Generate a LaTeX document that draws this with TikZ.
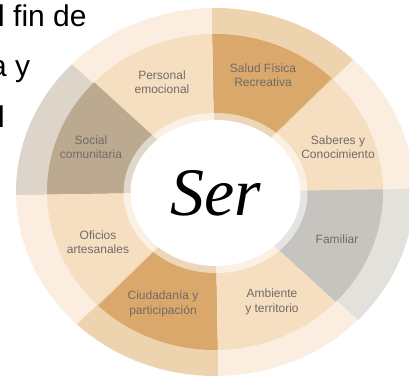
\documentclass[tikz,border=0pt]{standalone}
\usepackage{fontspec}
\setsansfont{Liberation Sans}
\newfontfamily\serfont{Liberation Serif}

% Colours of the wheel
\definecolor{peach}{HTML}{F6DFC1}
\definecolor{cream}{HTML}{FBEEE1}
\definecolor{tan}{HTML}{D9A86A}
\definecolor{tanlight}{HTML}{EDD4AF}
\definecolor{stone}{HTML}{BBAA8F}
\definecolor{stonelight}{HTML}{DDD5C9}
\definecolor{ash}{HTML}{C6C4BF}
\definecolor{ashlight}{HTML}{E3E1DC}
\definecolor{labelgray}{HTML}{716B66}

\begin{document}
\begin{tikzpicture}[
x=1pt, y=1pt,
% Define text styles
segment/.style = {font=\sffamily\fontsize{12}{14.5}\selectfont, text=labelgray, align=center, inner sep=0pt},
bodytext/.style = {font=\sffamily\fontsize{30}{30}\selectfont, anchor=base west, inner sep=0pt, text=black},
centre/.style = {font=\serfont\itshape\fontsize{68}{68}\selectfont, anchor=base, inner sep=0pt}
]
\useasboundingbox (0,0) rectangle (409,377);
\clip (0,0) rectangle (409,377);

\coordinate (c) at (215,185);

% Sectors: start angle / inner colour / outer colour
\foreach \s/\ci/\co in {1/peach/cream, 46/tan/tanlight, 91/peach/cream, 136/stone/stonelight,
  181/peach/cream, 226/tan/tanlight, 271/peach/cream, 316/ash/ashlight}{
  \fill[\co] (c) -- ++(\s:199pt and 184pt) arc[start angle=\s, end angle=\s+45, x radius=199pt, y radius=184pt] -- cycle;
  \fill[\ci] (c) -- ++(\s:168pt and 158pt) arc[start angle=\s, end angle=\s+45, x radius=168pt, y radius=158pt] -- cycle;
}

% Centre
\fill[white, opacity=0.55] (215.5,184) ellipse [x radius=92pt, y radius=80pt];
\fill[white] (215.5,184) ellipse [x radius=85pt, y radius=73pt];
\node (ser) [centre] at (216,161) {Ser};

% Segment labels
\node (saberes) [segment] at (338,230) {Saberes y\\Conocimiento};
\node (salud) [segment] at (263,302) {Salud Física\\Recreativa};
\node (personal) [segment] at (162,295) {Personal\\emocional};
\node (social) [segment] at (91,230) {Social\\comunitaria};
\node (oficios) [segment] at (98,135) {Oficios\\artesanales};
\node (ciudadania) [segment] at (163,73) {Ciudadanía y\\participación};
\node (ambiente) [segment] at (272,75) {Ambiente\\y territorio};
\node (familiar) [segment] at (337,138) {Familiar};

% Text cut at the left edge
\node (line1) [bodytext] at (-2,350) {l fin de};
\node (line2) [bodytext] at (-10,300) {a y};
\node (line3) [bodytext] at (-2,249) {l};
\end{tikzpicture}
\end{document}
